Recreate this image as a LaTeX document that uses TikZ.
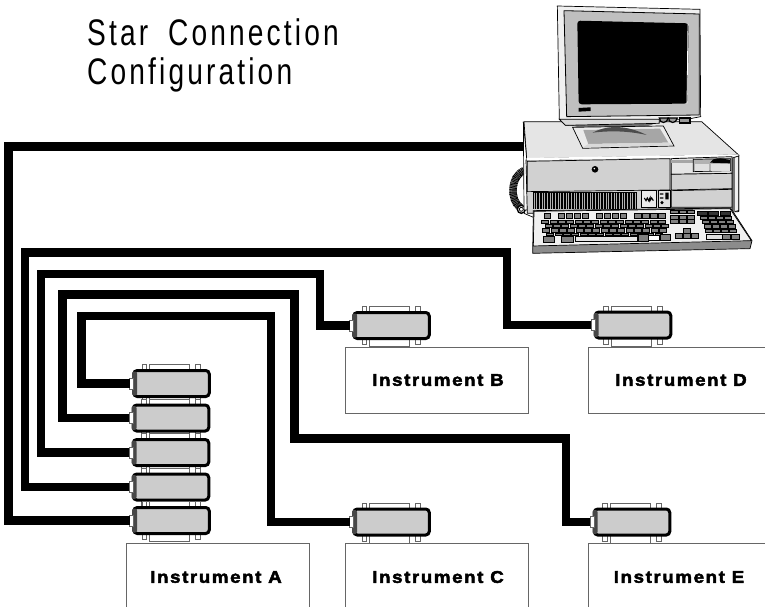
\documentclass[tikz,border=0pt]{standalone}
\usepackage{fontspec}
\setmainfont{Liberation Sans}
\newfontfamily\titlefont[FakeStretch=0.76,LetterSpace=8.5]{Liberation Sans}
\newfontfamily\labelfont[FakeStretch=1.1,LetterSpace=9.5,FakeBold=2.8]{Liberation Sans Bold}
\definecolor{bodygray}{gray}{0.8}
\definecolor{edgegray}{gray}{0.4}
\tikzset{
  cable/.style={line width=8.6pt,black,line join=miter},
  connbody/.style={draw=black,line width=3pt,fill=bodygray,rounded corners=3.5pt,minimum width=75.5pt,minimum height=26pt,inner sep=0pt,outer sep=0pt},
  stubbox/.style={draw=edgegray,line width=.6pt,fill=white,minimum width=4pt,minimum height=11pt,inner sep=0pt,outer sep=0pt},
  tab/.style={draw=edgegray,line width=.6pt,fill=white},
  instbox/.style={draw=edgegray,line width=.9pt,fill=white,anchor=north west,inner sep=0pt,outer sep=0pt},
  instlabel/.style={font=\labelfont\fontsize{17}{20}\selectfont,inner sep=0pt},
  key/.style={draw=black,line width=.55pt,fill=black!50},
  caseline/.style={draw=black,line width=.7pt},
}
% name, centre x, centre y
\newcommand{\connector}[3]{%
  \draw[tab] (#2-29.5,#3-19) rectangle (#2-25,#3-12);
  \draw[tab] (#2-22,#3-19) rectangle (#2+18,#3-12);
  \draw[tab] (#2+24,#3-19) rectangle (#2+29,#3-12);
  \draw[tab] (#2-29.5,#3+12) rectangle (#2-25,#3+19);
  \draw[tab] (#2-22,#3+12) rectangle (#2+18,#3+21);
  \draw[tab] (#2+24,#3+12) rectangle (#2+29,#3+19);
  \node[connbody] (#1) at (#2,#3) {};
  \fill[black!72,rounded corners=2pt] (#2-39.5,#3-12) rectangle (#2-34.5,#3+12);
  \node[stubbox,anchor=east] (#1s) at (#1.west) {};
}
\begin{document}
\begin{tikzpicture}[x=1pt,y=-1pt]
\useasboundingbox (0,0) rectangle (765,607);
\clip (0,0) rectangle (765,607);
\fill[white] (0,0) rectangle (765,607);

% title
\node[anchor=base west,inner sep=0pt,font=\titlefont\fontsize{37}{39}\selectfont] (title1) at (87,46) {Star\hspace{9pt} Connection};
\node[anchor=base west,inner sep=0pt,font=\titlefont\fontsize{37}{39}\selectfont] (title2) at (87,85) {Configuration};

% instrument boxes
\node[instbox,minimum width=183pt,minimum height=80pt] (boxA) at (126,543) {};
\node[instbox,minimum width=183pt,minimum height=66pt] (boxB) at (345,347) {};
\node[instbox,minimum width=183pt,minimum height=80pt] (boxC) at (345,543) {};
\node[instbox,minimum width=190pt,minimum height=66pt] (boxD) at (588,347) {};
\node[instbox,minimum width=190pt,minimum height=80pt] (boxE) at (588,543) {};
\node[instlabel] (labA) at (216,577) {Instrument A};
\node[instlabel] (labB) at (438,380) {Instrument B};
\node[instlabel] (labC) at (438,577) {Instrument C};
\node[instlabel] (labD) at (681,380) {Instrument D};
\node[instlabel] (labE) at (679,577) {Instrument E};

% connectors
\connector{aa}{171.5}{383.5}
\connector{ab}{171}{418}
\connector{ac}{171}{452.5}
\connector{ad}{171}{487}
\connector{ae}{171.5}{520.5}
\connector{cb}{391.5}{325.5}
\connector{cc}{391.5}{522}
\connector{cd}{633}{325}
\connector{ce}{632}{522}

% cable corners
\coordinate (pc) at (524,146.5);
\coordinate (k1) at (8.5,146.5);
\coordinate (k2a) at (25,252.5);
\coordinate (k2b) at (507,325);
\coordinate (k3a) at (41,274);
\coordinate (k3b) at (320,325.5);
\coordinate (k4a) at (62.5,294.5);
\coordinate (k4b) at (294.5,438.5);
\coordinate (k4c) at (566,522);
\coordinate (k5a) at (81.5,316);
\coordinate (k5b) at (271,522);

\draw[cable] (pc) -- (k1) |- (aes.west);
\draw[cable] (ads.west) -| (k2a) -| (k2b) -- (cds.west);
\draw[cable] (acs.west) -| (k3a) -| (k3b) -- (cbs.west);
\draw[cable] (abs.west) -| (k4a) -| (k4b) -| (k4c) -- (ces.west);
\draw[cable] (aas.west) -| (k5a) -| (k5b) -- (ccs.west);

% computer, in 3x zoom coordinates
\begin{scope}[shift={(500,0)},x=0.3333pt,y=-0.3333pt]
  % coil cord
  \draw[line width=7.5pt,black!55] (72,512) .. controls (30,530) and (30,600) .. (60,622);
  \draw[line width=7.5pt,black,dash pattern=on .7pt off .8pt] (72,512) .. controls (30,530) and (30,600) .. (60,622);
  \draw[line width=1.4pt,fill=white] (64,628) circle (12);
  \draw[line width=.8pt] (64,628) circle (6);
  \draw[line width=.7pt] (72,640) -- (100,652);
  % case
  \path[caseline,fill=black!10] (72,365) -- (605,365) -- (716,465) -- (80,476) -- cycle;
  \path[caseline,fill=white] (70,365) -- (80,476) -- (82,630) -- (72,630) -- cycle;
  \path[caseline,fill=black!18] (78,480) -- (716,465) -- (716,635) -- (82,640) -- cycle;
  \fill[white] (80,474) -- (716,463) -- (716,470) -- (80,481) -- cycle;
  \path[caseline,fill=black!18] (82,484) -- (510,476) -- (510,570) -- (82,575) -- cycle;
  \fill[black] (285,508) circle (10);
  \fill[white] (283,506) circle (2.5);
  % vents
  \fill[black] (98,577) rectangle (412,628);
  \foreach \vx in {102,110,...,410} {\draw[white!70!black,line width=.7pt] (\vx,578) -- (\vx,628);}
  % badge panel
  \path[caseline,fill=black!8] (425,572) rectangle (470,622);
  \draw[line width=1.1pt] (433,594) -- (438,602) -- (442,594) -- (446,602) -- (450,594) -- (450,602) -- (455,594) -- (460,602);
  \path[caseline,fill=black!12] (474,572) rectangle (510,622);
  \fill[black] (480,580) rectangle (490,584) (480,592) rectangle (490,596) (496,578) rectangle (506,598);
  \fill[black] (486,608) circle (5);
  % drive bays
  \path[caseline,fill=black!10] (514,476) -- (696,470) -- (696,520) -- (514,523) -- cycle;
  \fill[black!35] (514,480) rectangle (580,490);
  \path[caseline,fill=black!30] (580,478) -- (692,476) -- (692,512) -- (580,515) -- cycle;
  \fill[black!12] (584,492) rectangle (628,512);
  \fill[black!12] (632,492) rectangle (690,512);
  \fill[black] (630,488) .. controls (640,470) and (660,474) .. (690,480) -- (690,490) -- cycle;
  \path[caseline,fill=black!18] (514,523) -- (696,520) -- (696,566) -- (514,570) -- cycle;
  \path[caseline,fill=black!18] (514,572) -- (696,568) -- (696,622) -- (514,622) -- cycle;
  \path[caseline,fill=black!6] (698,474) -- (716,468) -- (716,632) -- (698,636) -- cycle;
  \fill[black!55] (700,474) rectangle (704,636);
  % stand
  \path[fill=black!55] (205,372) .. controls (270,400) and (420,398) .. (475,365) -- (470,355) -- (210,360) -- cycle;
  \path[caseline,fill=black!8] (218,382) -- (490,378) -- (522,438) -- (248,445) -- cycle;
  \path[fill=black!35] (250,390) -- (480,386) -- (505,428) -- (265,432) -- cycle;
  \path[fill=black!15] (265,432) -- (505,428) -- (520,436) -- (250,442) -- cycle;
  \path[fill=black!70] (278,398) .. controls (330,370) and (390,380) .. (440,405) .. controls (380,392) and (330,392) .. (278,398) -- cycle;
  % monitor
  \path[caseline,fill=black!6] (172,18) -- (600,28) -- (602,350) -- (560,358) -- (196,376) -- (178,358) -- cycle;
  \path[draw=black,line width=.8pt,fill=black!25] (192,32) -- (598,42) -- (598,345) -- (200,350) -- cycle;
  \fill[black,rounded corners=3pt] (232,62) -- (566,70) -- (562,311) -- (236,313) -- cycle;
  \draw[white,line width=.8pt] (564,72) -- (561,310);
  \fill[black] (236,324) -- (272,322) -- (272,333) -- (236,335) -- cycle;
  \path[draw=black,line width=1.2pt,fill=black!40] (478,354) .. controls (480,372) and (500,372) .. (505,354) -- cycle;
  \path[draw=black,line width=1.2pt,fill=black!40] (505,354) .. controls (508,372) and (528,372) .. (532,354) -- cycle;
  \path[draw=black,line width=1.2pt,fill=black!40] (538,354) rectangle (570,369);
  \path[draw=black,line width=.7pt,fill=black!15] (178,358) -- (196,376) -- (478,370) -- (478,358) -- cycle;
  % keyboard
  \path[caseline,fill=black!45] (100,632) -- (692,624) -- (756,722) -- (750,746) -- (98,760) -- cycle;
  \path[caseline,fill=black!6] (102,634) -- (690,626) -- (754,722) -- (100,738) -- cycle;
  % function row
  \foreach \kx in {132,174,198,222,246,288,312,336,360,404,428,452,476} {\path[key] (\kx,640) rectangle ++(20,15);}
  % main block
  \foreach \ky/\ks in {660/125,673/135,686/128} {
    \foreach \kn in {0,1,...,14} {\path[key] (\ks+\kn*25,\ky) rectangle ++(21,10);}
  }
  \foreach \kn in {0,1,...,13} {\path[key] (140+\kn*25,699) rectangle ++(21,8);}
  % bottom row
  \path[key] (130,708) rectangle ++(32,19);
  \path[key] (185,708) rectangle ++(34,19);
  \path[draw=black,line width=.4pt,fill=black!10] (225,710) rectangle (412,724);
  \path[key] (414,704) rectangle ++(30,20);
  \path[draw=black,line width=.4pt,fill=white] (446,706) rectangle (478,722);
  \path[key] (480,704) rectangle ++(30,18);
  % navigation cluster
  \foreach \kx in {512,537,562} {
    \foreach \ky in {630,646,658} {\path[key] (\kx,\ky) rectangle ++(22,11);}
  }
  \path[key] (550,686) rectangle ++(22,14);
  \foreach \kx in {526,550,574} {\path[key] (\kx,700) rectangle ++(22,16);}
  % keypad
  \foreach \kx in {592,626,660} {\path[key,fill=black!80] (\kx,633) rectangle ++(30,12);}
  \foreach \ky/\ks in {648/600,661/606,674/612,687/616} {
    \foreach \kn in {0,1,2,3} {\path[key] (\ks+\kn*24,\ky) rectangle ++(21,10);}
  }
  \path[draw=black,line width=.4pt,fill=black!12] (618,702) rectangle ++(48,15);
  \path[key] (668,702) rectangle ++(24,15);
  \path[key] (694,702) rectangle ++(24,15);
\end{scope}
\end{tikzpicture}
\end{document}
